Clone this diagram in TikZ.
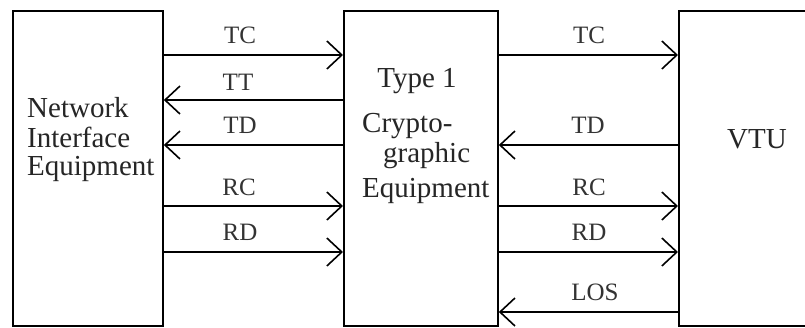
\documentclass[tikz,border=0pt]{standalone}
\usepackage{fontspec}
\setmainfont{Liberation Serif}
\usetikzlibrary{arrows.meta}
\begin{document}
\begin{tikzpicture}[x=1pt,y=-1pt,
  box/.style={draw, line width=1.8pt, anchor=north west, inner sep=0pt, minimum height=315pt},
  sig/.style={line width=1.6pt, -{Straight Barb[length=15pt,width=28pt,line width=1.6pt]}},
  lab/.style={font=\fontsize{25}{27}\selectfont, inner sep=0pt, anchor=base, text=black!80},
  body/.style={font=\fontsize{29}{31}\selectfont, inner sep=0pt, text=black!85}]
\useasboundingbox (0,0) rectangle (805,327);
\clip (0,0) rectangle (805,327);
\fill[white] (0,0) rectangle (805,327);
% boxes
\node[box, minimum width=150pt] (nie) at (12,10) {};
\node[box, minimum width=154pt] (cry) at (343,10) {};
\node[box, minimum width=160pt] (vtu) at (678,10) {};
% box texts
\node[body, anchor=base west] (n1) at (27,117) {Network};
\node[body, anchor=base west] (n2) at (27,147) {Interface};
\node[body, anchor=base west] (n3) at (27,175) {Equipment};
\node[body, anchor=base] (c1) at (417,87) {Type 1};
\node[body, anchor=base west] (c2) at (362,132) {Crypto-};
\node[body, anchor=base west] (c3) at (383,162) {graphic};
\node[body, anchor=base west] (c4) at (362,197) {Equipment};
\node[body, anchor=base] (v1) at (757,148) {VTU};
% left arrows
\draw[sig] (nie.east |- 0,55) -- (cry.west |- 0,55);
\draw[sig] (cry.west |- 0,100) -- (nie.east |- 0,100);
\draw[sig] (cry.west |- 0,145) -- (nie.east |- 0,145);
\draw[sig] (nie.east |- 0,206) -- (cry.west |- 0,206);
\draw[sig] (nie.east |- 0,252) -- (cry.west |- 0,252);
% right arrows
\draw[sig] (cry.east |- 0,55) -- (vtu.west |- 0,55);
\draw[sig] (vtu.west |- 0,145) -- (cry.east |- 0,145);
\draw[sig] (cry.east |- 0,206) -- (vtu.west |- 0,206);
\draw[sig] (cry.east |- 0,252) -- (vtu.west |- 0,252);
\draw[sig] (vtu.west |- 0,312) -- (cry.east |- 0,312);
% labels
\node[lab] (l1) at (240,43) {TC};
\node[lab] (l2) at (238,90) {TT};
\node[lab] (l3) at (240,133) {TD};
\node[lab] (l4) at (239,195) {RC};
\node[lab] (l5) at (240,240) {RD};
\node[lab] (r1) at (589,43) {TC};
\node[lab] (r2) at (588,133) {TD};
\node[lab] (r3) at (589,195) {RC};
\node[lab] (r4) at (589,240) {RD};
\node[lab] (r5) at (595,300) {LOS};
\end{tikzpicture}
\end{document}
